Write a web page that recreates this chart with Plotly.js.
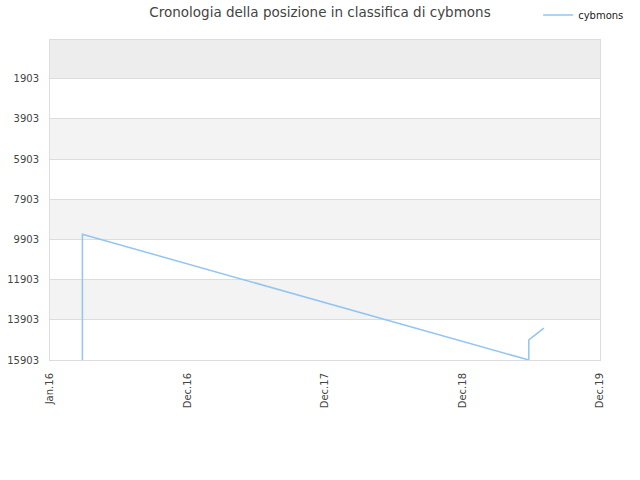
<!DOCTYPE html>
<html>
<head>
<meta charset="utf-8">
<script src="https://cdn.plot.ly/plotly-3.0.1.min.js"></script>
<style>html,body{margin:0;padding:0;background:#fff;}#chart{width:640px;height:480px;}</style>
</head>
<body>
<div id="chart"></div>
<script>
const seriesName = "cybmons";
const dates = ["2016-03-27", "2016-03-27", "2019-06-25", "2019-06-25", "2019-08-04"];
const positions = [15903, 9648, 15903, 14903, 14318];
const yTickVals = [1903, 3903, 5903, 7903, 9903, 11903, 13903, 15903];
const xTickVals = ["2016-01-01", "2016-12-31", "2017-12-31", "2018-12-31", "2019-12-31"];
const xTickText = ["Jan.16", "Dec.16", "Dec.17", "Dec.18", "Dec.19"];
const yTop = -20;

const shapes = [];
shapes.push({type:'rect', xref:'paper', yref:'y', x0:0, x1:1, y0:yTop, y1:yTickVals[0], fillcolor:'#ededed', line:{width:0}, layer:'below'});
for (let i = 1; i + 1 < yTickVals.length; i += 2) {
  shapes.push({type:'rect', xref:'paper', yref:'y', x0:0, x1:1, y0:yTickVals[i], y1:yTickVals[i+1], fillcolor:'#f3f3f3', line:{width:0}, layer:'below'});
}

const trace = {
  x: dates, y: positions, type:'scatter', mode:'lines', name: seriesName,
  line:{color:'#92c5f2', width:1.5}, showlegend:true
};

const layout = {
  width:640, height:480,
  margin:{l:50, r:40, t:40, b:120, autoexpand:false},
  paper_bgcolor:'#fff', plot_bgcolor:'#fff',
  font:{family:'DejaVu Sans, sans-serif', size:10, color:'#444'},
  title:{text:'Cronologia della posizione in classifica di cybmons', x:0.5, xanchor:'center', y:0.975, yanchor:'middle', font:{size:13.5, color:'#444', family:'DejaVu Sans, sans-serif'}},
  showlegend:true,
  legend:{x:1.053, xanchor:'right', y:1.078, yanchor:'middle', orientation:'h', font:{size:10, color:'#222'}, bgcolor:'rgba(0,0,0,0)', itemwidth:30},
  xaxis:{type:'date', range:["2016-01-01","2019-12-31"], tickvals:xTickVals, ticktext:xTickText, tickangle:-90, showgrid:false, showline:true, mirror:true, linecolor:'#dddddd', linewidth:1, zeroline:false, ticks:'', ticklabelstandoff:8, tickfont:{size:10, color:'#444'}},
  yaxis:{range:[15903, yTop], tickvals:yTickVals, ticktext:yTickVals.map(String), showgrid:true, gridcolor:'#dddddd', gridwidth:1, showline:true, mirror:true, linecolor:'#dddddd', linewidth:1, zeroline:false, ticks:'', ticklabelstandoff:8, tickfont:{size:10, color:'#444'}},
  shapes: shapes
};

Plotly.newPlot('chart', [trace], layout, {displayModeBar:false, staticPlot:true});
</script>
</body>
</html>
